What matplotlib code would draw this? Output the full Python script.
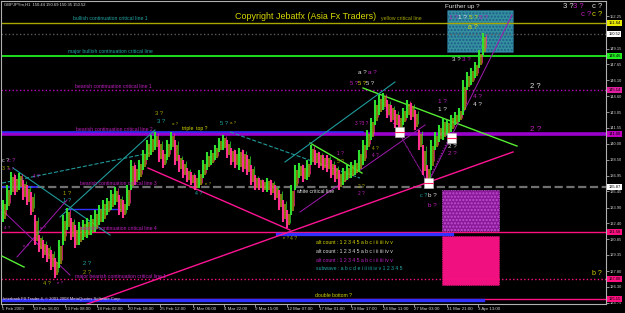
import matplotlib
matplotlib.use("Agg")
import matplotlib.pyplot as plt
from matplotlib.patches import Rectangle
from matplotlib.transforms import blended_transform_factory

plt.rcParams['font.family'] = ['Liberation Sans', 'DejaVu Sans']

# GBPJPYm H1, one high/low pair per 8 hours
highs = [134.62, 136.06, 137.31, 137.02, 137.21, 136.54, 136.06, 135.39, 133.18, 131.26,
         130.78, 130.30, 129.82, 129.05, 130.78, 133.18, 133.85, 132.89, 132.22, 132.51,
         132.70, 132.89, 133.18, 133.66, 134.14, 134.62, 134.81, 135.58, 135.87, 135.10,
         134.62, 136.06, 138.46, 137.98, 138.46, 139.42, 140.38, 140.86, 141.15, 140.38,
         139.42, 140.38, 141.15, 140.38, 138.94, 138.46, 137.69, 137.31, 137.02, 137.50,
         138.46, 139.23, 139.42, 139.90, 140.57, 140.86, 140.38, 139.61, 139.42, 139.61,
         139.42, 138.94, 137.98, 137.02, 136.73, 136.54, 136.73, 136.54, 136.06, 135.58,
         134.62, 133.66, 136.06, 137.98, 138.17, 137.98, 138.46, 139.90, 139.42, 139.23,
         138.94, 138.94, 138.46, 137.98, 137.50, 137.69, 137.98, 138.27, 138.46, 139.42,
         140.38, 141.34, 142.49, 144.22, 144.70, 144.89, 144.22, 143.74, 143.26, 142.78,
         143.45, 144.22, 143.93, 143.26, 141.34, 139.90, 137.98, 140.38, 141.15, 141.82,
         142.49, 142.30, 142.78, 143.07, 143.45, 146.14, 146.91, 147.29, 147.87, 149.02,
         150.65]
lows = [132.51, 133.66, 135.10, 135.10, 135.58, 134.62, 134.14, 133.18, 130.30, 129.63,
        129.05, 128.67, 127.90, 127.13, 128.09, 130.30, 131.74, 130.78, 130.01, 130.30,
        130.78, 130.97, 131.26, 131.55, 132.22, 132.51, 133.18, 133.66, 134.14, 133.18,
        132.89, 133.66, 135.58, 136.06, 136.54, 137.50, 138.46, 138.94, 139.42, 138.27,
        137.69, 138.46, 139.42, 137.98, 137.31, 136.73, 136.35, 136.06, 135.58, 135.77,
        136.73, 137.50, 137.98, 138.46, 139.23, 139.42, 138.65, 137.98, 137.69, 137.50,
        137.31, 137.02, 136.06, 135.58, 135.58, 135.39, 135.39, 135.10, 134.62, 133.66,
        132.51, 131.93, 133.18, 135.58, 136.73, 136.35, 136.54, 137.98, 137.98, 137.69,
        137.50, 137.31, 136.73, 136.35, 135.58, 136.06, 136.54, 136.73, 137.02, 137.31,
        137.98, 139.42, 140.38, 141.82, 142.78, 143.26, 142.49, 142.10, 141.53, 141.15,
        141.82, 142.49, 142.30, 141.34, 139.42, 137.02, 136.06, 137.50, 139.42, 140.19,
        140.38, 140.86, 141.15, 141.82, 142.10, 142.78, 145.18, 145.66, 146.33, 147.29,
        148.54]
bar_step = 8  # hours per drawn bar

time_ticks = [0, 62, 126, 190, 252, 316, 382, 444, 506, 570, 634, 698, 762, 824, 890, 952]
time_labels = ["5 Feb 2009", "10 Feb 16:00", "13 Feb 08:00", "18 Feb 02:00", "20 Feb 18:00",
               "25 Feb 12:00", "2 Mar 06:00", "4 Mar 22:00", "9 Mar 15:00", "12 Mar 07:00",
               "17 Mar 01:00", "19 Mar 17:00", "24 Mar 11:00", "27 Mar 03:00",
               "31 Mar 21:00", "3 Apr 13:00"]
# 150.70 sits under the bid box, so it is not shown
price_ticks = [152.25, 149.15, 147.65, 146.10, 144.60, 143.05, 141.55, 140.00, 138.50,
               136.95, 135.45, 133.90, 132.40, 130.85, 129.35, 127.80, 126.30, 124.75]

# horizontal critical lines: price, colour, style, width, label box colour, label text colour
levels = [(151.64, '#a8a800', '-', 1.0, '#e8e800', 'black'),
          (150.52, '#5a5a5a', ':', 1.0, 'white', 'black'),
          (148.46, '#22ee22', '-', 1.3, '#22ee22', 'black'),
          (145.14, '#c000c0', ':', 1.0, '#e020a0', 'black'),
          (141.00, '#9a00cc', '-', 2.6, '#c000c0', 'black'),
          (135.87, '#707070', '--', 1.6, 'white', 'black'),
          (131.58, '#ff1080', '-', 1.0, '#ff1080', 'black'),
          (127.00, '#ff1080', ':', 1.0, '#ff1080', 'black'),
          (125.15, '#ff1080', '-', 1.0, '#ff1080', 'black')]

# blue segments: price, start hour, end hour, width
blue_segments = [(141.18, 0, 722, 1.2), (135.87, 0, 70, 1.2), (133.76, 126, 236, 1.0),
                 (131.40, 550, 900, 2.4), (124.98, 0, 962, 2.4)]

# trend lines: (h0, p0, h1, p1), colour, style
trend_lines = [((126, 123.87, 1022, 139.23), '#ff1493', '-', 1.0),
               ((292, 137.69, 576, 131.74), '#ff1493', '-', 1.0),
               ((722, 145.37, 1030, 139.80), '#55ee33', '-', 1.0),
               ((616, 140.09, 720, 137.21), '#55ee33', '-', 1.0),
               ((0, 129.24, 44, 128.19), '#55ee33', '-', 1.0),
               ((116, 132.99, 306, 141.34), '#1f9a9a', '-', 0.8),
               ((0, 136.25, 296, 139.13), '#1f9a9a', '--', 0.8),
               ((22, 137.69, 216, 131.26), '#1f9a9a', '-', 0.8),
               ((456, 141.15, 716, 136.73), '#1f9a9a', '--', 0.8),
               ((566, 138.27, 786, 145.95), '#1f9a9a', '-', 0.8),
               ((850, 136.06, 1020, 152.38), '#a01ab0', '-', 0.7),
               ((596, 133.47, 846, 141.82), '#a01ab0', '-', 0.7),
               ((756, 144.22, 852, 136.25), '#a01ab0', ':', 0.8),
               ((792, 141.15, 852, 136.25), '#a01ab0', ':', 0.8),
               ((850, 136.25, 896, 140.76), '#a01ab0', ':', 0.8),
               ((30, 129.15, 130, 134.62), '#a01ab0', '-', 0.7),
               ((0, 133.66, 136, 127.42), '#a01ab0', '-', 0.7)]

# zones: h0, h1, p0, p1, face, hatch colour, hatch
zones = [(890, 1022, 148.83, 152.86, '#348f9f', '#1d5d8a', '.....'),
         (880, 994, 131.64, 135.58, '#8a1a9a', '#c050d0', '.....'),
         (880, 994, 126.46, 131.16, '#f0107f', '#f0107f', None)]

# wave-count markers (white boxes)
marker_boxes = [(794, 141.15), (898, 140.57), (852, 136.25)]

TEAL = '#22a8a8'
MAG = '#c020c0'
YEL = '#d8d800'
OLV = '#a8a800'
WHT = '#e0e0e0'

line_texts = [(142, 152.00, "bullish continuation critical line 1", TEAL),
              (132, 148.83, "major bullish continuation critical line", TEAL),
              (146, 145.47, "bearish continuation critical line 1", MAG),
              (148, 141.34, "bearish continuation critical line 2", MAG),
              (360, 141.53, "triple  top ?", YEL),
              (156, 136.16, "bearish continuation critical line 3", MAG),
              (588, 135.39, "white critical line", WHT),
              (156, 131.93, "bearish continuation critical line 4", MAG),
              (146, 127.32, "major bearish continuation critical line 1", MAG),
              (626, 125.50, "double bottom ?", YEL),
              (758, 152.00, "yellow critical line", OLV),
              (628, 130.59, "alt count : 1 2 3 4 5 a b c i ii iii iv v", YEL),
              (628, 129.72, "alt count : 1 2 3 4 5 a b c i ii iii iv v", WHT),
              (628, 128.86, "alt count : 1 2 3 4 5 a b c i ii iii iv v", MAG),
              (628, 128.02, "subwave : a b c d e i ii iii iv v 1 2 3 4 5", TEAL)]

wave_texts = [(886, 153.15, "Further up ?", WHT, 4.6),
              (1122, 153.15, "3 ?", WHT, 5.5), (1142, 153.15, "3 ?", MAG, 5.5),
              (1180, 153.15, "c ?", WHT, 5.5),
              (1158, 152.38, "c ?", MAG, 5.5), (1180, 152.38, "c ?", YEL, 5.5),
              (894, 152.09, "1 ?", MAG, 4.6), (912, 152.09, "1 ?", WHT, 4.6),
              (934, 152.09, "5 ?", YEL, 4.6), (954, 152.09, "5 ?", MAG, 4.6),
              (932, 151.13, "a ?", YEL, 5),
              (900, 148.06, "3 ?", WHT, 4.6), (920, 148.06, "3 ?", MAG, 4.6),
              (1056, 145.56, "2 ?", WHT, 5.5),
              (942, 144.51, "4 ?", MAG, 4.6), (942, 143.80, "4 ?", WHT, 4.6),
              (712, 146.81, "a ?", WHT, 4.6), (732, 146.81, "a ?", MAG, 4.6),
              (696, 145.85, "5 ?", MAG, 4.2), (712, 145.85, "5 ?", YEL, 4.2),
              (728, 145.85, "5 ?", WHT, 4.2),
              (872, 144.03, "1 ?", MAG, 4.6), (872, 143.26, "1 ?", WHT, 4.6),
              (1056, 141.34, "2 ?", MAG, 5.8),
              (892, 139.71, "2 ?", WHT, 4.6), (892, 139.04, "2 ?", MAG, 4.6),
              (836, 135.10, "c ?", TEAL, 4.0), (852, 135.10, "b ?", WHT, 4.6),
              (852, 134.14, "b ?", MAG, 4.6),
              (1180, 127.52, "b ?", YEL, 5),
              (706, 142.01, "3 ?3 ?", MAG, 3.4),
              (670, 139.13, "1 ?", MAG, 3.4), (670, 138.27, "5 ?", OLV, 3.4),
              (740, 139.61, "4 ?", OLV, 3.4), (740, 138.94, "4 ?", MAG, 3.4),
              (712, 135.96, "2 ?", OLV, 3.4), (712, 135.29, "2 ?", MAG, 3.4),
              (306, 142.97, "3 ?", OLV, 4.2), (310, 142.20, "3 ?", TEAL, 4.2),
              (340, 141.92, "a ?", OLV, 3.2),
              (436, 142.01, "5 ?", TEAL, 4.2), (456, 142.01, "a ?", OLV, 3.2),
              (0, 138.40, "c ?", WHT, 3.8), (12, 138.40, "c ?", MAG, 3.8),
              (0, 137.62, "3 ?", OLV, 3.8), (12, 137.62, "a ?", MAG, 3.2),
              (62, 136.83, "4 ?", MAG, 3.4),
              (122, 135.29, "1 ?", OLV, 4.2), (122, 134.60, "1 ?", TEAL, 4.2),
              (386, 135.20, "4 ?", TEAL, 3.8), (406, 136.16, "e ?", OLV, 3.2),
              (162, 128.57, "2 ?", TEAL, 4.2), (162, 127.71, "2 ?", OLV, 4.2),
              (82, 126.65, "4 ?", OLV, 4.0), (110, 126.65, "e ?", MAG, 3.2),
              (562, 130.97, "e ?", OLV, 3.2), (576, 130.97, "4 ?", OLV, 3.6),
              (4, 131.93, "4 ?", MAG, 3.2), (76, 131.93, "e ?", MAG, 3.2),
              (42, 130.20, "e ?", MAG, 3.2)]

fig = plt.figure(figsize=(6.25, 3.13), dpi=100, facecolor='black')
ax = fig.add_axes([1 / 625, 9 / 313, 605 / 625, 303 / 313], facecolor='black')
ax.set_xlim(-2, 1208)
ax.set_ylim(124.64, 153.72)

# zones go under everything
for h0, h1, p0, p1, face, hcol, hatch in zones:
    ax.add_patch(Rectangle((h0, p0), h1 - h0, p1 - p0, facecolor=face, edgecolor=hcol,
                           hatch=hatch, lw=0.6, ls=':', zorder=1))

# critical lines
for price, col, ls, lw, boxcol, tcol in levels:
    ax.axhline(price, color=col, ls=ls, lw=lw, zorder=2)
for price, h0, h1, lw in blue_segments:
    ax.plot([h0, h1], [price, price], color='#3030ff', lw=lw, zorder=2)

for (h0, p0, h1, p1), col, ls, lw in trend_lines:
    ax.plot([h0, h1], [p0, p1], color=col, ls=ls, lw=lw, zorder=3)

# price bars: direction colour, olive body next to it, thin opposite-colour wick
prev_mid = (highs[0] + lows[0]) / 2
for i, (hi, lo) in enumerate(zip(highs, lows)):
    x = i * bar_step + 4
    mid = (hi + lo) / 2
    up = mid >= prev_mid
    main = '#30e030' if up else '#ff3090'
    other = '#ff3090' if up else '#30e030'
    rng = hi - lo
    ax.vlines(x - 1.5, lo, hi, color=main, lw=1.5, zorder=4)
    ax.vlines(x + 2.0, lo + rng * 0.15, hi - rng * 0.2, color='#a89a10', lw=1.1, zorder=4)
    ax.vlines(x + 3.6, lo + rng * 0.3, hi - rng * 0.05, color=other, lw=0.5, zorder=4)
    prev_mid = mid

for h, p in marker_boxes:
    ax.add_patch(Rectangle((h - 9, p - 0.5), 18, 1.0, facecolor='white', edgecolor='#bbbbbb',
                           lw=0.4, zorder=5))
    ax.plot([h - 9, h + 9], [p, p], color='#ff2060', lw=0.8, zorder=6)

for h, p, s, c in line_texts:
    ax.text(h, p, s, color=c, fontsize=3.7, va='center', ha='left', zorder=7)
for h, p, s, c, fs in wave_texts:
    ax.text(h, p, s, color=c, fontsize=fs, va='center', ha='left', zorder=7)

ax.text(466, 152.19, "Copyright Jebatfx (Asia Fx Traders)", color=YEL, fontsize=6.4,
        va='center', ha='left', zorder=7)
ax.text(4, 153.34, "GBPJPYm,H1  150.44 150.69 150.35 150.52", color=WHT, fontsize=3.0,
        va='center', ha='left', zorder=7)
ax.text(2, 125.10, "Interbank FX Trader 4, \u00a9 2001-2008 MetaQuotes Software Corp.",
        color=WHT, fontsize=3.0, va='center', ha='left', zorder=7)

# axes styling
for sp in ax.spines.values():
    sp.set_color('#b0b0b0')
    sp.set_linewidth(0.8)
ax.yaxis.tick_right()
ax.set_yticks(price_ticks)
ax.set_yticklabels([f"{p:.2f}" for p in price_ticks])
ax.tick_params(axis='y', colors='#d0d0d0', labelsize=2.9, length=2, width=0.5, pad=1)
ax.set_xticks(time_ticks)
ax.set_xticklabels(time_labels)
ax.tick_params(axis='x', colors='#d0d0d0', labelsize=3.2, length=2, width=0.5, pad=0.5)
for lab in ax.get_xticklabels():
    lab.set_ha('left')

# price boxes for the critical lines on the right scale
tr = blended_transform_factory(ax.transAxes, ax.transData)
for price, col, ls, lw, boxcol, tcol in levels:
    ax.text(1.004, price, f"{price:.2f}", transform=tr, color=tcol, fontsize=2.9,
            va='center', ha='left', zorder=8, clip_on=False,
            bbox=dict(boxstyle='square,pad=0.25', facecolor=boxcol, edgecolor='none'))

fig.savefig("out.png", dpi=100, facecolor='black')
